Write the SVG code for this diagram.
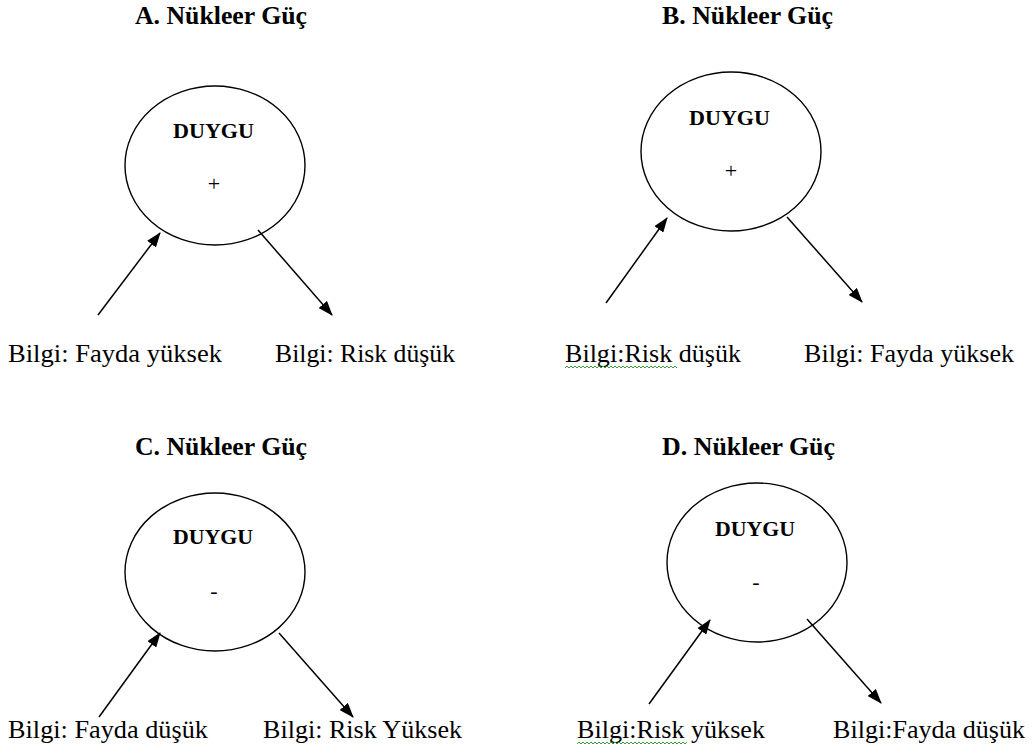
<svg xmlns="http://www.w3.org/2000/svg" width="1035" height="753" viewBox="0 0 1035 753">
<style>
text{font-family:"Liberation Serif","Times New Roman",serif;fill:#000}
.title{font-size:25px;font-weight:bold}
.duygu{font-size:21px;font-weight:bold}
.sign{font-size:22px;text-anchor:middle}
.lbl{font-size:25.5px}
ellipse{fill:none;stroke:#000;stroke-width:1.4}
.arr{stroke:#000;stroke-width:1.5;fill:none;marker-end:url(#ah)}
.wavy{fill:none;stroke:#3c9a3c;stroke-width:1}
</style>
<defs>
<marker id="ah" viewBox="0 0 15 11" refX="14" refY="5.5" markerWidth="15" markerHeight="11" markerUnits="userSpaceOnUse" orient="auto">
<path d="M0,0 L15,5.5 L0,11 Z" fill="#000"/>
</marker>
</defs>
<rect width="1035" height="753" fill="#fff"/>

<g id="panel-A">
<text class="title" x="135" y="24" textLength="172" lengthAdjust="spacingAndGlyphs">A. Nükleer Güç</text>
<g id="node-A">
<ellipse cx="215" cy="165.5" rx="90" ry="79.5"/>
<text class="duygu" x="173" y="138" textLength="81" lengthAdjust="spacingAndGlyphs">DUYGU</text>
<text class="sign" x="214" y="191">+</text>
</g>
<g id="label-A1"><text class="lbl" x="8" y="362" textLength="214" lengthAdjust="spacingAndGlyphs">Bilgi: Fayda yüksek</text></g>
<g id="label-A2"><text class="lbl" x="275" y="362" textLength="180" lengthAdjust="spacingAndGlyphs">Bilgi: Risk düşük</text></g>
</g>

<g id="panel-B">
<text class="title" x="662" y="24" textLength="171" lengthAdjust="spacingAndGlyphs">B. Nükleer Güç</text>
<g id="node-B">
<ellipse cx="731" cy="151.5" rx="90" ry="79.5"/>
<text class="duygu" x="689" y="125" textLength="81" lengthAdjust="spacingAndGlyphs">DUYGU</text>
<text class="sign" x="731" y="178">+</text>
</g>
<g id="label-B1"><text class="lbl" x="565" y="362" textLength="176" lengthAdjust="spacingAndGlyphs">Bilgi:Risk düşük</text>
<path class="wavy" d="M565,368 l2,-2 l2,2 l2,-2 l2,2 l2,-2 l2,2 l2,-2 l2,2 l2,-2 l2,2 l2,-2 l2,2 l2,-2 l2,2 l2,-2 l2,2 l2,-2 l2,2 l2,-2 l2,2 l2,-2 l2,2 l2,-2 l2,2 l2,-2 l2,2 l2,-2 l2,2 l2,-2 l2,2 l2,-2 l2,2 l2,-2 l2,2 l2,-2 l2,2 l2,-2 l2,2 l2,-2 l2,2 l2,-2 l2,2 l2,-2 l2,2 l2,-2 l2,2 l2,-2 l2,2 l2,-2 l2,2 l2,-2 l2,2 l2,-2 l2,2 l2,-2 l2,2"/>
</g>
<g id="label-B2"><text class="lbl" x="804" y="362" textLength="210" lengthAdjust="spacingAndGlyphs">Bilgi: Fayda yüksek</text></g>
</g>

<g id="panel-C">
<text class="title" x="135" y="455" textLength="172" lengthAdjust="spacingAndGlyphs">C. Nükleer Güç</text>
<g id="node-C">
<ellipse cx="215" cy="572" rx="90" ry="79"/>
<text class="duygu" x="173" y="544" textLength="80" lengthAdjust="spacingAndGlyphs">DUYGU</text>
<text class="sign" x="214" y="598">-</text>
</g>
<g id="label-C1"><text class="lbl" x="8" y="738" textLength="200" lengthAdjust="spacingAndGlyphs">Bilgi: Fayda düşük</text></g>
<g id="label-C2"><text class="lbl" x="263" y="738" textLength="199" lengthAdjust="spacingAndGlyphs">Bilgi: Risk Yüksek</text></g>
</g>

<g id="panel-D">
<text class="title" x="662" y="455" textLength="173" lengthAdjust="spacingAndGlyphs">D. Nükleer Güç</text>
<g id="node-D">
<ellipse cx="757" cy="562.5" rx="90" ry="79.5"/>
<text class="duygu" x="715" y="536" textLength="80" lengthAdjust="spacingAndGlyphs">DUYGU</text>
<text class="sign" x="756" y="589">-</text>
</g>
<g id="label-D1"><text class="lbl" x="577" y="738" textLength="188" lengthAdjust="spacingAndGlyphs">Bilgi:Risk yüksek</text>
<path class="wavy" d="M577,744 l2,-2 l2,2 l2,-2 l2,2 l2,-2 l2,2 l2,-2 l2,2 l2,-2 l2,2 l2,-2 l2,2 l2,-2 l2,2 l2,-2 l2,2 l2,-2 l2,2 l2,-2 l2,2 l2,-2 l2,2 l2,-2 l2,2 l2,-2 l2,2 l2,-2 l2,2 l2,-2 l2,2 l2,-2 l2,2 l2,-2 l2,2 l2,-2 l2,2 l2,-2 l2,2 l2,-2 l2,2 l2,-2 l2,2 l2,-2 l2,2 l2,-2 l2,2 l2,-2 l2,2 l2,-2 l2,2 l2,-2 l2,2 l2,-2 l2,2 l2,-2"/>
</g>
<g id="label-D2"><text class="lbl" x="833" y="738" textLength="192" lengthAdjust="spacingAndGlyphs">Bilgi:Fayda düşük</text></g>
</g>

<g id="connectors">
<line class="arr" x1="98" y1="315" x2="160" y2="233"/>
<line class="arr" x1="258" y1="230" x2="332" y2="315"/>
<line class="arr" x1="606" y1="303" x2="667" y2="218"/>
<line class="arr" x1="787" y1="217" x2="862" y2="302"/>
<line class="arr" x1="99" y1="717" x2="160" y2="633"/>
<line class="arr" x1="279" y1="633" x2="353" y2="717"/>
<line class="arr" x1="649" y1="704" x2="710" y2="620"/>
<line class="arr" x1="807" y1="619" x2="881" y2="703"/>
</g>
</svg>
